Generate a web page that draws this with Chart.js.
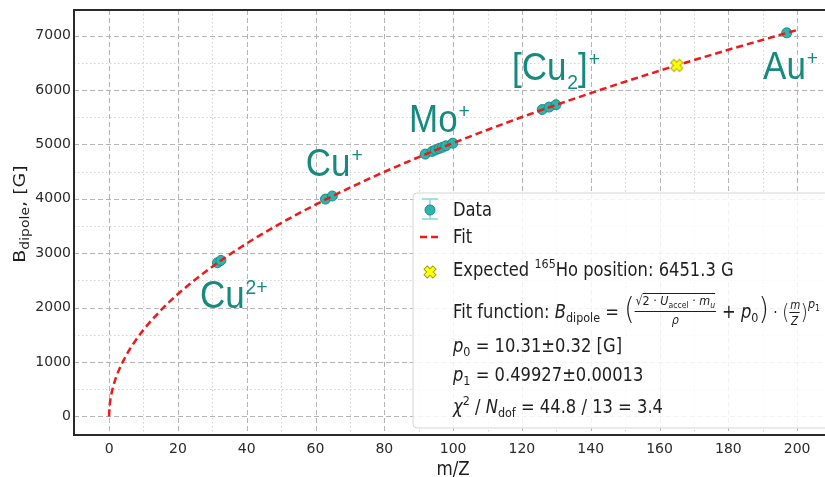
<!DOCTYPE html>
<html>
<head>
<meta charset="utf-8">
<script src="https://cdn.jsdelivr.net/npm/chart.js@4.4.0/dist/chart.umd.min.js"></script>
<style>
  html, body { margin: 0; padding: 0; background: #fff; overflow: hidden; }
</style>
</head>
<body>
<canvas id="grafico" width="825" height="477"></canvas>
<script>
// puntos medidos: m/Z y campo del dipolo [G]
const masaCarga = [31.5, 32.5, 62.9, 64.9, 91.9, 93.9, 94.9, 95.9, 96.9, 97.9, 99.9, 125.9, 127.9, 129.9, 196.97];
const campoB = [2825, 2868, 3995, 4052, 4822, 4872, 4898, 4924, 4948, 4974, 5023, 5641, 5686, 5730, 7050];
// curva de ajuste
const ajusteMZ = [0, 0.1, 0.25, 0.5, 1, 2, 3, 5, 7.5, 10, 15, 20, 30, 40, 50, 60, 70, 80, 90, 100, 120, 140, 160, 180, 200];
const ajusteB = [0, 160, 252, 357, 504, 713, 873, 1126, 1379, 1592, 1949, 2250, 2754, 3180, 3555, 3893, 4205, 4495, 4767, 5024, 5503, 5943, 6354, 6739, 7102];
// posicion esperada del 165Ho
const holmioMZ = [165];
const holmioB = [6451.3];
// etiquetas de iones
const iones = ['Cu^{2+}', 'Cu^{+}', 'Mo^{+}', '[Cu_{2}]^{+}', 'Au^{+}'];
const ionesMZ = [26.4, 57.2, 87.2, 117.1, 190.1];
const ionesB = [1994, 4420, 5228, 6184, 6202];
// marcas de los ejes
const ticksX = [0, 20, 40, 60, 80, 100, 120, 140, 160, 180, 200];
const ticksY = [0, 1000, 2000, 3000, 4000, 5000, 6000, 7000];

const SX = 0.86;
const dejavu = (px, it) => (it ? 'italic ' : '') + px + 'px "DejaVu Sans"';

// marcador X amarillo
function marcadorX() {
    const c = document.createElement('canvas');
    c.width = 16; c.height = 16;
    const g = c.getContext('2d');
    const L = 6.2, w = 2.3;
    const pts = [[w, w], [L, w], [L, -w], [w, -w], [w, -L], [-w, -L], [-w, -w], [-L, -w], [-L, w], [-w, w], [-w, L], [w, L]];
    g.translate(8, 8);
    g.rotate(Math.PI / 4);
    g.beginPath();
    pts.forEach((p, i) => i ? g.lineTo(p[0], p[1]) : g.moveTo(p[0], p[1]));
    g.closePath();
    g.fillStyle = '#ffff00';
    g.fill();
    g.strokeStyle = '#a0a000';
    g.lineWidth = 1;
    g.stroke();
    return c;
}
const imgX = marcadorX();

// texto con trozos (fuente, desplazamiento vertical)
function trozos(ctx, x, y, partes, sx) {
    ctx.save();
    ctx.translate(x, y);
    ctx.scale(sx, 1);
    let cx = 0;
    partes.forEach(p => {
        ctx.font = p[1];
        ctx.fillText(p[0], cx, p[2] || 0);
        cx += ctx.measureText(p[0]).width;
    });
    ctx.restore();
}

function dibujarIon(ctx, texto, x, y) {
    ctx.save();
    ctx.translate(x, y);
    ctx.scale(0.92, 1);
    ctx.fillStyle = '#168a7c';
    ctx.textBaseline = 'alphabetic';
    let cx = 0;
    const re = /([\^_])\{([^}]*)\}|([^\^_]+)/g;
    let m;
    while ((m = re.exec(texto))) {
        if (m[3]) {
            ctx.font = '38px "Liberation Sans"';
            ctx.fillText(m[3], cx, 0);
            cx += ctx.measureText(m[3]).width;
        } else {
            ctx.font = '21px "Liberation Sans"';
            const dy = m[1] === '^' ? -14 : 9;
            ctx.fillText(m[2], cx + 1, dy);
            cx += ctx.measureText(m[2]).width + 1;
        }
    }
    ctx.restore();
}

function formula(ctx, x, y) {
    ctx.save();
    ctx.translate(x, y);
    ctx.scale(SX, 1);
    let cx = 0;
    const put = (t, f, dy) => { ctx.font = f; ctx.fillText(t, cx, dy || 0); cx += ctx.measureText(t).width; };
    const fino = px => '200 ' + px + 'px "DejaVu Sans"';
    put('Fit function:', dejavu(19));
    cx += 6;
    put('B', dejavu(19, true));
    put('dipole', dejavu(13), 4);
    put(' = ', dejavu(19));
    put('(', fino(31), 1);
    const fx = cx;
    cx += 1;
    put('\u221A', dejavu(13), -13);
    const ox = cx;
    put('2 \u00B7 ', dejavu(13), -13);
    put('U', dejavu(13, true), -13);
    put('accel', dejavu(9), -10);
    put(' \u00B7 ', dejavu(13), -13);
    put('m', dejavu(13, true), -13);
    put('u', dejavu(9, true), -10);
    const fin = cx + 1;
    ctx.fillRect(ox, -25, fin - 1 - ox, 1);
    ctx.fillRect(fx, -7, fin - fx, 1);
    ctx.font = dejavu(13, true);
    ctx.fillText('\u03C1', fx + (fin - fx) / 2 - 4, 6);
    cx = fin + 1;
    put(' + ', dejavu(19));
    put('p', dejavu(19, true));
    put('0', dejavu(13), 4);
    put(')', fino(31), 1);
    put(' \u00B7 ', dejavu(16));
    put('(', fino(22), 1);
    const f2 = cx;
    ctx.font = dejavu(12, true);
    ctx.fillText('m', f2 + 1, -9);
    ctx.fillRect(f2, -6, 12, 1);
    ctx.fillText('Z', f2 + 2, 7);
    cx = f2 + 13;
    put(')', fino(22), 1);
    put('p', dejavu(13, true), -10);
    put('1', dejavu(9), -7);
    ctx.restore();
}

const decorado = {
    id: 'decorado',
    beforeDatasetsDraw(chart) {
        const ctx = chart.ctx, a = chart.chartArea;
        const sx = chart.scales.x, sy = chart.scales.y;
        const menores = (t, max) => {
            const r = [];
            for (let i = 0; i < t.length; i++) {
                const paso = (t[1] - t[0]) / 2;
                if (t[i] + paso < max) r.push(t[i] + paso);
            }
            return r;
        };
        ctx.save();
        ctx.lineWidth = 1;
        // rejilla menor punteada
        ctx.strokeStyle = '#d2d2d2';
        ctx.setLineDash([1.5, 2.5]);
        menores(ticksX, sx.max).forEach(v => {
            const p = Math.round(sx.getPixelForValue(v)) + 0.5;
            ctx.beginPath(); ctx.moveTo(p, a.top); ctx.lineTo(p, a.bottom); ctx.stroke();
        });
        menores(ticksY, sy.max).forEach(v => {
            const p = Math.round(sy.getPixelForValue(v)) + 0.5;
            ctx.beginPath(); ctx.moveTo(a.left, p); ctx.lineTo(a.right, p); ctx.stroke();
        });
        // rejilla mayor discontinua
        ctx.strokeStyle = '#b4b4b4';
        ctx.setLineDash([5, 3]);
        ticksX.forEach(v => {
            const p = Math.round(sx.getPixelForValue(v)) + 0.5;
            ctx.beginPath(); ctx.moveTo(p, a.top); ctx.lineTo(p, a.bottom); ctx.stroke();
        });
        ticksY.forEach(v => {
            const p = Math.round(sy.getPixelForValue(v)) + 0.5;
            ctx.beginPath(); ctx.moveTo(a.left, p); ctx.lineTo(a.right, p); ctx.stroke();
        });
        ctx.restore();
    },
    afterDatasetsDraw(chart) {
        const ctx = chart.ctx, a = chart.chartArea;
        const sx = chart.scales.x, sy = chart.scales.y;
        ctx.save();
        // etiquetas de iones
        iones.forEach((t, i) => dibujarIon(ctx, t, sx.getPixelForValue(ionesMZ[i]), sy.getPixelForValue(ionesB[i])));

        // caja de leyenda
        const bx = 413, by = 193, bw = 440, bh = 235, r = 4;
        ctx.beginPath();
        ctx.moveTo(bx + r, by); ctx.lineTo(bx + bw, by); ctx.lineTo(bx + bw, by + bh);
        ctx.lineTo(bx + r, by + bh); ctx.arcTo(bx, by + bh, bx, by + bh - r, r);
        ctx.lineTo(bx, by + r); ctx.arcTo(bx, by, bx + r, by, r);
        ctx.closePath();
        ctx.fillStyle = 'rgba(255,255,255,0.82)';
        ctx.fill();
        ctx.strokeStyle = '#d6d6d6';
        ctx.lineWidth = 1;
        ctx.stroke();

        // simbolos de la leyenda
        ctx.strokeStyle = '#8fd6d1';
        ctx.lineWidth = 1.5;
        ctx.beginPath();
        ctx.moveTo(430, 199); ctx.lineTo(430, 219);
        ctx.moveTo(422, 199); ctx.lineTo(438, 199);
        ctx.moveTo(422, 219); ctx.lineTo(438, 219);
        ctx.stroke();
        ctx.beginPath();
        ctx.arc(430, 210, 5, 0, Math.PI * 2);
        ctx.fillStyle = '#2cb5ad';
        ctx.fill();
        ctx.strokeStyle = '#1d8a84';
        ctx.lineWidth = 1;
        ctx.stroke();
        ctx.strokeStyle = '#f01818';
        ctx.lineWidth = 2.5;
        ctx.setLineDash([7, 4]);
        ctx.beginPath(); ctx.moveTo(420, 237); ctx.lineTo(441, 237); ctx.stroke();
        ctx.setLineDash([]);
        ctx.drawImage(imgX, 422, 264);

        // textos de la leyenda
        ctx.fillStyle = '#1e1e1e';
        ctx.textBaseline = 'alphabetic';
        const tx = 453;
        trozos(ctx, tx, 216, [['Data', dejavu(19)]], SX);
        trozos(ctx, tx, 243, [['Fit', dejavu(19)]], SX);
        trozos(ctx, tx, 276, [['Expected ', dejavu(19)], ['165', dejavu(13), -8], ['Ho position: ' + holmioB[0].toFixed(1) + ' G', dejavu(19)]], SX);
        formula(ctx, tx, 318);
        trozos(ctx, tx, 352, [['p', dejavu(19, true)], ['0', dejavu(13), 4], [' = 10.31\u00B10.32 [G]', dejavu(19)]], SX);
        trozos(ctx, tx, 381, [['p', dejavu(19, true)], ['1', dejavu(13), 4], [' = 0.49927\u00B10.00013', dejavu(19)]], SX);
        trozos(ctx, tx, 413, [['\u03C7', dejavu(19, true)], ['2', dejavu(13), -8], [' / ', dejavu(19)], ['N', dejavu(19, true)], ['dof', dejavu(13), 4], [' = 44.8 / 13 = 3.4', dejavu(19)]], SX);

        // marco
        ctx.strokeStyle = '#2a2a2a';
        ctx.lineWidth = 2;
        ctx.beginPath();
        ctx.moveTo(a.right, a.top); ctx.lineTo(a.left, a.top); ctx.lineTo(a.left, a.bottom); ctx.lineTo(a.right, a.bottom);
        ctx.stroke();

        // titulos de ejes
        ctx.fillStyle = '#1e1e1e';
        ctx.font = dejavu(19);
        const wx = ctx.measureText('m/Z').width * 0.88;
        trozos(ctx, sx.getPixelForValue(100) - wx / 2, 475, [['m/Z', dejavu(19)]], 0.88);
        ctx.save();
        ctx.translate(25, 214);
        ctx.rotate(-Math.PI / 2);
        const partes = [['B', dejavu(19)], ['dipole', dejavu(14), 4], [', [G]', dejavu(19)]];
        let w = 0;
        partes.forEach(p => { ctx.font = p[1]; w += ctx.measureText(p[0]).width; });
        ctx.scale(1, 0.88);
        trozos(ctx, -w / 2, 0, partes, 1);
        ctx.restore();
        ctx.restore();
    }
};

const ctx = document.getElementById('grafico').getContext('2d');
const grafico = new Chart(ctx, {
    type: 'scatter',
    data: {
        datasets: [{
            type: 'line',
            label: 'Fit',
            data: ajusteMZ.map((x, i) => ({ x: x, y: ajusteB[i] })),
            borderColor: '#f01818',
            borderWidth: 2.5,
            borderDash: [7, 4],
            pointRadius: 0,
            cubicInterpolationMode: 'monotone',
            fill: false,
            order: 1
        }, {
            label: 'Data',
            data: masaCarga.map((x, i) => ({ x: x, y: campoB[i] })),
            backgroundColor: '#2cb5ad',
            borderColor: '#1d8a84',
            borderWidth: 1,
            pointRadius: 5,
            order: 2
        }, {
            label: 'Expected 165Ho',
            data: holmioMZ.map((x, i) => ({ x: x, y: holmioB[i] })),
            pointStyle: imgX,
            order: 0
        }]
    },
    options: {
        responsive: false,
        animation: false,
        layout: { autoPadding: false, padding: { top: 10, right: 0, left: 0, bottom: 0 } },
        plugins: { legend: { display: false }, tooltip: { enabled: false } },
        scales: {
            x: {
                type: 'linear',
                min: -10.2,
                max: 208.1,
                afterBuildTicks: s => { s.ticks = ticksX.map(v => ({ value: v })); },
                afterFit: s => { s.height = 42; s.paddingRight = 0; s.paddingLeft = 0; },
                grid: { display: false, drawTicks: false },
                border: { display: false },
                ticks: { padding: 6, color: '#2a2a2a', font: { family: 'DejaVu Sans', size: 14 }, callback: v => String(v) }
            },
            y: {
                type: 'linear',
                min: -340,
                max: 7470,
                afterBuildTicks: s => { s.ticks = ticksY.map(v => ({ value: v })); },
                afterFit: s => { s.width = 74; s.paddingTop = 0; s.paddingBottom = 0; },
                grid: { display: false, drawTicks: false },
                border: { display: false },
                ticks: { padding: 3, color: '#2a2a2a', font: { family: 'DejaVu Sans', size: 14 }, callback: v => String(v) }
            }
        }
    },
    plugins: [decorado]
});
</script>
</body>
</html>
